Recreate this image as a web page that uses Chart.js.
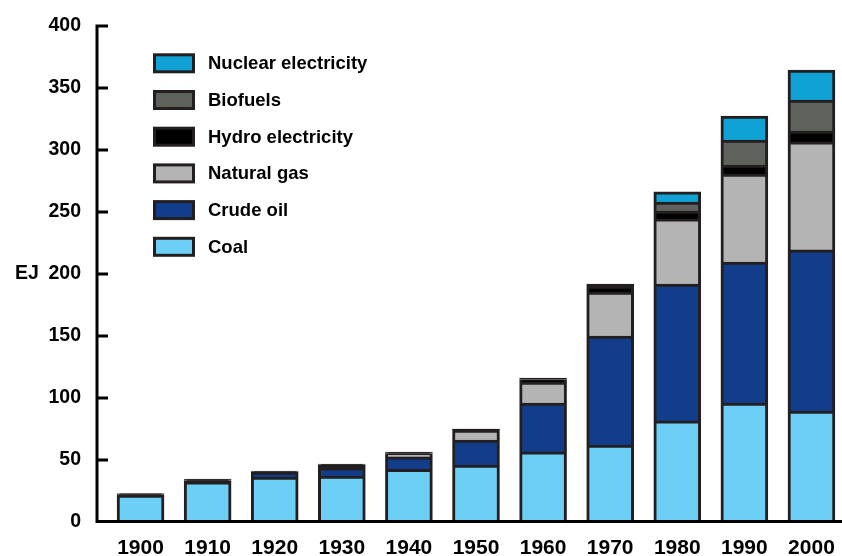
<!DOCTYPE html>
<html>
<head>
<meta charset="utf-8">
<script src="https://cdn.jsdelivr.net/npm/chart.js@4"></script>
<style>
  html, body { margin: 0; padding: 0; background: #fff; overflow: hidden; }
  #wrap { width: 846px; height: 556px; position: relative; }
</style>
</head>
<body>
<div id="wrap"><canvas id="chart"></canvas></div>
<script>
const years = ['1900', '1910', '1920', '1930', '1940', '1950', '1960', '1970', '1980', '1990', '2000'];
const coal = [21.8, 32.3, 36.3, 37.1, 42.5, 46, 56.5, 62, 81.5, 96, 89.5];
const crudeOil = [0.4, 1, 3.2, 6.5, 10, 20.1, 39.5, 88, 110.4, 113.7, 129.9];
const naturalGas = [0.2, 0.5, 0.6, 1.5, 2.7, 8.1, 16.9, 35.5, 52.5, 70.9, 87.1];
const hydro = [0.3, 0.5, 0.6, 1, 0.7, 0.5, 2, 4.8, 6.4, 7.3, 8.8];
const biofuels = [0.2, 0.4, 0.4, 0.7, 0.4, 0.3, 1.2, 1.6, 7.3, 20.2, 25];
const nuclear = [0, 0, 0, 0, 0, 0, 0, 0, 8.1, 19.3, 24.2];
const yTicks = [0, 50, 100, 150, 200, 250, 300, 350, 400];

const edge = '#231f20';
const font = "'Liberation Sans', Arial, sans-serif";

function series(label, data, color) {
    return {
        label: label,
        data: data,
        color: color,
        // slivers thinner than the outline just read as outline
        backgroundColor: (ctx) => (ctx.raw !== undefined && ctx.raw < 2 ? edge : color),
        borderColor: edge,
        borderWidth: 3,
        borderSkipped: 'start',
        inflateAmount: 0.33,
        barPercentage: 0.7,
        categoryPercentage: 1
    };
}

// axis lines, inside ticks, the "EJ" unit and the legend box
const decorations = {
    id: 'decorations',
    afterDatasetsDraw(chart) {
        const ctx = chart.ctx;
        const y = chart.scales.y;
        const axisX = 97;
        ctx.save();
        ctx.strokeStyle = '#000';
        ctx.lineWidth = 3;
        ctx.beginPath();
        ctx.moveTo(axisX, y.getPixelForValue(400) - 1.5);
        ctx.lineTo(axisX, y.getPixelForValue(0));
        ctx.moveTo(axisX - 1.5, y.getPixelForValue(0) - 0.5);
        ctx.lineTo(chart.width, y.getPixelForValue(0) - 0.5);
        yTicks.forEach(v => {
            if (v === 0) return;
            const py = y.getPixelForValue(v);
            ctx.moveTo(axisX - 1.5, py);
            ctx.lineTo(axisX + 11, py);
        });
        ctx.stroke();

        ctx.fillStyle = '#000';
        ctx.font = 'bold 19.5px ' + font;
        ctx.textAlign = 'left';
        ctx.textBaseline = 'middle';
        ctx.fillText('EJ', 15, y.getPixelForValue(200));

        const sets = chart.data.datasets.slice().reverse();
        ctx.font = 'bold 18.5px ' + font;
        sets.forEach((ds, i) => {
            const cy = 63.3 + i * 36.7;
            ctx.fillStyle = edge;
            ctx.fillRect(153, cy - 10, 42, 20);
            ctx.fillStyle = ds.color;
            ctx.fillRect(156, cy - 7, 36, 14);
            ctx.fillStyle = '#000';
            ctx.fillText(ds.label, 208, cy + 1);
        });
        ctx.restore();
    }
};

new Chart(document.getElementById('chart'), {
    type: 'bar',
    data: {
        labels: years,
        datasets: [
            series('Coal', coal, '#6dcff6'),
            series('Crude oil', crudeOil, '#113d8b'),
            series('Natural gas', naturalGas, '#b4b4b4'),
            series('Hydro electricity', hydro, '#000000'),
            series('Biofuels', biofuels, '#5e615c'),
            series('Nuclear electricity', nuclear, '#10a2d4')
        ]
    },
    options: {
        responsive: true,
        maintainAspectRatio: false,
        animation: false,
        layout: { padding: { top: 26, right: 1, left: 0, bottom: 0 } },
        plugins: {
            legend: { display: false },
            tooltip: { enabled: false }
        },
        scales: {
            x: {
                stacked: true,
                grid: { display: false, drawTicks: false },
                border: { display: false },
                ticks: {
                    color: '#000',
                    padding: 14,
                    maxRotation: 0,
                    font: { family: font, size: 21, weight: 'bold' }
                },
                afterFit: (scale) => {
                    scale.height = 34;
                    scale.paddingLeft = 0;
                    scale.paddingRight = 0;
                }
            },
            y: {
                stacked: true,
                min: 0,
                max: 400,
                grid: { display: false, drawTicks: false },
                border: { display: false },
                ticks: {
                    stepSize: 50,
                    color: '#000',
                    padding: 26,
                    font: { family: font, size: 19.5, weight: 'bold' }
                },
                afterFit: (scale) => {
                    scale.width = 107;
                    scale.paddingTop = 0;
                    scale.paddingBottom = 0;
                }
            }
        }
    },
    plugins: [decorations]
});
</script>
</body>
</html>
